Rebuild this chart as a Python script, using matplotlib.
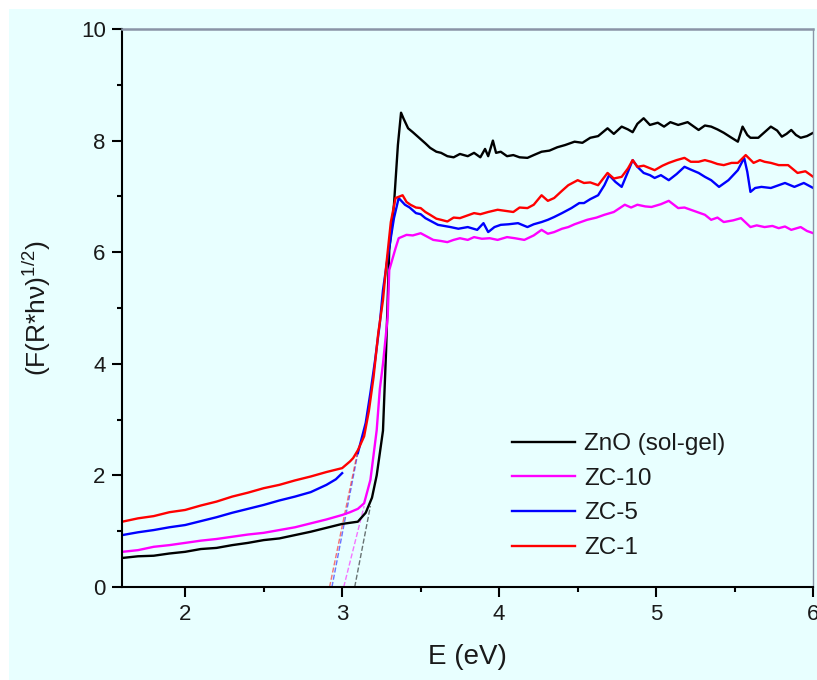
"""
Tauc plot of ZnO (sol-gel) and ZC samples: (F(R*hv))^1/2 vs photon energy
"""

import matplotlib.pyplot as plt
import numpy as np
from matplotlib.patches import Rectangle

plt.rcParams['font.family'] = ['Liberation Sans', 'DejaVu Sans']
plt.rcParams['mathtext.fontset'] = 'custom'
plt.rcParams['mathtext.rm'] = 'Liberation Sans'
plt.rcParams['mathtext.it'] = 'Liberation Sans'

nan = np.nan

# ZnO (sol-gel)
e_zno = [1.60, 1.70, 1.80, 1.90, 2.00, 2.10, 2.20, 2.30, 2.40, 2.50, 2.60, 2.70, 2.80, 2.90,
         3.00, 3.05, 3.10, 3.15, 3.19, 3.22, 3.24, 3.26, 3.28, 3.30, 3.33, 3.355, 3.375, 3.39,
         3.42, 3.45, 3.49, 3.53, 3.56, 3.60, 3.63, 3.67, 3.71, 3.75, 3.80, 3.84, 3.88, 3.91,
         3.93, 3.96, 3.98, 4.01, 4.05, 4.09, 4.13, 4.18, 4.22, 4.27, 4.32, 4.37, 4.42, 4.48,
         4.53, 4.58, 4.63, 4.69, 4.73, 4.78, 4.82, 4.85, 4.88, 4.92, 4.96, 5.01, 5.05, 5.09,
         5.14, 5.20, 5.24, 5.27, 5.31, 5.35, 5.39, 5.43, 5.48, 5.52, 5.55, 5.58, 5.60, 5.65,
         5.69, 5.73, 5.77, 5.80, 5.83, 5.86, 5.89, 5.92, 5.96, 6.00]
y_zno = [0.52, 0.55, 0.56, 0.60, 0.63, 0.68, 0.70, 0.75, 0.79, 0.84, 0.87, 0.93, 0.99, 1.06,
         1.13, 1.15, 1.17, 1.33, 1.60, 2.00, 2.40, 2.80, 4.25, 6.04, 6.85, 7.92, 8.50, 8.40,
         8.22, 8.15, 8.05, 7.95, 7.87, 7.80, 7.78, 7.72, 7.70, 7.76, 7.72, 7.78, 7.70, 7.85,
         7.72, 8.00, 7.78, 7.80, 7.72, 7.74, 7.70, 7.69, 7.74, 7.80, 7.82, 7.88, 7.92, 7.98,
         7.96, 8.05, 8.08, 8.22, 8.12, 8.25, 8.20, 8.15, 8.30, 8.40, 8.28, 8.32, 8.25, 8.33,
         8.28, 8.33, 8.25, 8.19, 8.27, 8.25, 8.20, 8.14, 8.05, 7.98, 8.25, 8.10, 8.05, 8.05,
         8.15, 8.25, 8.18, 8.07, 8.12, 8.19, 8.10, 8.05, 8.08, 8.14]

# ZC-10
e_zc10 = [1.60, 1.70, 1.80, 1.90, 2.00, 2.10, 2.20, 2.30, 2.40, 2.50, 2.60, 2.70, 2.80, 2.90,
          3.00, 3.05, 3.10, 3.14, 3.18, 3.22, 3.24, 3.26, 3.29, 3.30, 3.34, 3.36, 3.41, 3.45,
          3.50, 3.54, 3.58, 3.63, 3.67, 3.71, 3.75, 3.80, 3.84, 3.89, 3.94, 3.99, 4.05, 4.10,
          4.16, 4.22, 4.27, 4.31, 4.35, 4.40, 4.44, 4.48, 4.52, 4.56, 4.62, 4.67, 4.73, 4.80,
          4.84, 4.88, 4.93, 4.97, 5.03, 5.08, 5.14, 5.18, 5.22, 5.26, 5.31, 5.35, 5.39, 5.43,
          5.49, 5.54, 5.60, 5.64, 5.69, 5.74, 5.78, 5.82, 5.86, 5.92, 5.96, 6.00]
y_zc10 = [0.63, 0.66, 0.72, 0.75, 0.79, 0.83, 0.86, 0.90, 0.94, 0.97, 1.02, 1.07, 1.14, 1.21,
          1.29, 1.34, 1.40, 1.50, 1.92, 2.81, 3.55, 4.00, 4.84, 5.68, 6.07, 6.25, 6.31, 6.30,
          6.34, 6.28, 6.22, 6.20, 6.18, 6.22, 6.25, 6.22, 6.27, 6.24, 6.25, 6.22, 6.27, 6.25,
          6.22, 6.30, 6.40, 6.33, 6.36, 6.42, 6.45, 6.50, 6.54, 6.58, 6.62, 6.67, 6.72, 6.85,
          6.80, 6.85, 6.82, 6.81, 6.86, 6.92, 6.79, 6.80, 6.76, 6.72, 6.67, 6.58, 6.62, 6.54,
          6.57, 6.61, 6.45, 6.48, 6.45, 6.47, 6.43, 6.46, 6.40, 6.45, 6.38, 6.34]

# ZC-5 (gap in the recorded trace near 3.05 eV)
e_zc5 = [1.60, 1.70, 1.80, 1.90, 2.00, 2.10, 2.20, 2.30, 2.40, 2.50, 2.60, 2.70, 2.80, 2.90,
         2.96, 3.00, nan, 3.10, 3.15, 3.18, 3.21, 3.24, 3.26, 3.29, 3.33, 3.36, 3.40, 3.43,
         3.47, 3.50, 3.53, 3.57, 3.61, 3.65, 3.69, 3.74, 3.80, 3.86, 3.90, 3.93, 3.97, 4.01,
         4.06, 4.12, 4.18, 4.22, 4.27, 4.31, 4.35, 4.40, 4.46, 4.51, 4.54, 4.58, 4.63, 4.67,
         4.70, 4.74, 4.78, 4.82, 4.85, 4.88, 4.92, 4.96, 4.99, 5.03, 5.08, 5.13, 5.18, 5.22,
         5.27, 5.31, 5.35, 5.40, 5.46, 5.52, 5.56, 5.58, 5.60, 5.63, 5.67, 5.73, 5.78, 5.82,
         5.88, 5.94, 6.00]
y_zc5 = [0.93, 0.98, 1.02, 1.07, 1.11, 1.18, 1.25, 1.33, 1.40, 1.47, 1.55, 1.62, 1.70, 1.83,
         1.93, 2.04, nan, 2.40, 2.94, 3.48, 4.07, 4.73, 5.32, 5.91, 6.61, 6.97, 6.85, 6.80,
         6.70, 6.68, 6.61, 6.55, 6.49, 6.47, 6.45, 6.42, 6.45, 6.40, 6.52, 6.36, 6.45, 6.49,
         6.50, 6.52, 6.45, 6.50, 6.54, 6.58, 6.63, 6.70, 6.79, 6.88, 6.88, 6.95, 7.02, 7.20,
         7.38, 7.26, 7.17, 7.44, 7.65, 7.53, 7.42, 7.38, 7.33, 7.38, 7.29, 7.40, 7.53, 7.48,
         7.42, 7.35, 7.29, 7.17, 7.29, 7.47, 7.69, 7.44, 7.08, 7.15, 7.17, 7.15, 7.20, 7.24,
         7.17, 7.24, 7.15]

# ZC-1
e_zc1 = [1.60, 1.70, 1.80, 1.90, 2.00, 2.10, 2.20, 2.30, 2.40, 2.50, 2.60, 2.70, 2.80, 2.90,
         3.00, 3.05, 3.07, 3.10, 3.14, 3.17, 3.20, 3.23, 3.26, 3.28, 3.31, 3.34, 3.385, 3.41,
         3.435, 3.47, 3.50, 3.53, 3.56, 3.60, 3.63, 3.67, 3.71, 3.75, 3.80, 3.84, 3.88, 3.93,
         3.99, 4.04, 4.09, 4.13, 4.18, 4.22, 4.27, 4.31, 4.35, 4.40, 4.44, 4.50, 4.54, 4.58,
         4.63, 4.69, 4.73, 4.78, 4.82, 4.85, 4.88, 4.92, 4.99, 5.04, 5.08, 5.13, 5.18, 5.22,
         5.27, 5.31, 5.35, 5.39, 5.43, 5.48, 5.52, 5.57, 5.62, 5.66, 5.69, 5.73, 5.78, 5.84,
         5.90, 5.95, 6.00]
y_zc1 = [1.17, 1.23, 1.27, 1.34, 1.38, 1.46, 1.53, 1.62, 1.69, 1.77, 1.83, 1.91, 1.98, 2.06,
         2.13, 2.25, 2.31, 2.45, 2.70, 3.15, 3.76, 4.55, 5.14, 5.74, 6.54, 6.97, 7.02, 6.90,
         6.85, 6.80, 6.79, 6.72, 6.67, 6.60, 6.58, 6.55, 6.62, 6.61, 6.66, 6.70, 6.68, 6.72,
         6.76, 6.74, 6.72, 6.80, 6.79, 6.85, 7.02, 6.92, 6.97, 7.10, 7.20, 7.29, 7.24, 7.25,
         7.20, 7.42, 7.32, 7.35, 7.50, 7.65, 7.53, 7.55, 7.47, 7.55, 7.60, 7.65, 7.69, 7.62,
         7.62, 7.65, 7.62, 7.58, 7.56, 7.60, 7.60, 7.74, 7.60, 7.65, 7.62, 7.60, 7.56, 7.56,
         7.42, 7.45, 7.35]

# linear extrapolations of the absorption edge to zero (band gap)
tauc_e = {'ZnO (sol-gel)': [3.08, 3.18], 'ZC-10': [3.01, 3.14],
          'ZC-5': [2.935, 3.10], 'ZC-1': [2.92, 3.10]}
tauc_y = {'ZnO (sol-gel)': [0.0, 1.45], 'ZC-10': [0.0, 1.45],
          'ZC-5': [0.0, 2.40], 'ZC-1': [0.0, 2.45]}

series = [('ZnO (sol-gel)', e_zno, y_zno, 'black'),
          ('ZC-10', e_zc10, y_zc10, '#ff00ff'),
          ('ZC-5', e_zc5, y_zc5, '#0000ff'),
          ('ZC-1', e_zc1, y_zc1, '#ff0000')]

bg = '#e8ffff'
fig = plt.figure(figsize=(8.17, 6.8), dpi=100, facecolor='white')
fig.patches.append(Rectangle((9 / 817, 0), 1, 1 - 9 / 680, transform=fig.transFigure,
                             facecolor=bg, edgecolor='none', zorder=-10))
ax = fig.add_axes([0.1497, 0.1368, 0.8457, 0.8206])
ax.set_facecolor(bg)

for name, e, y, c in series:
    ax.plot(tauc_e[name], tauc_y[name], '--', color=c, linewidth=1.0, alpha=0.55)

for name, e, y, c in series:
    ax.plot(e, y, '-', color=c, linewidth=1.7, label=name)

ax.set_xlim(1.6, 6)
ax.set_ylim(0, 10)
ax.set_xticks([2, 3, 4, 5, 6])
ax.set_xticks([2.5, 3.5, 4.5, 5.5], minor=True)
ax.set_yticks([0, 2, 4, 6, 8, 10])
ax.set_yticks([1, 3, 5, 7, 9], minor=True)
ax.tick_params(which='major', direction='out', length=7, width=1.5,
               labelsize=16, labelcolor='#1a1a1a', pad=5)
ax.tick_params(which='minor', direction='out', length=3.5, width=1.5)
ax.tick_params(top=False, right=False)

for side in ['left', 'bottom']:
    ax.spines[side].set_linewidth(1.5)
    ax.spines[side].set_color('black')
ax.spines['top'].set_linewidth(1.8)
ax.spines['top'].set_color('#8a94a6')
ax.spines['right'].set_linewidth(1.0)
ax.spines['right'].set_color('#8a94a6')

ax.set_xlabel('E (eV)', fontsize=20, color='#1a1a1a', labelpad=14)
ax.set_ylabel('(F(R*hν)$^{1/2}$)', fontsize=19, color='#1a1a1a', labelpad=20)

ax.legend(loc='upper left', bbox_to_anchor=(0.612, 0.381), bbox_transform=fig.transFigure,
          frameon=False, fontsize=17.5, handlelength=2.6, handletextpad=0.35,
          labelspacing=0.52, borderpad=0, labelcolor='#1a1a1a')

plt.savefig('out.png', dpi=100, facecolor=fig.get_facecolor())
